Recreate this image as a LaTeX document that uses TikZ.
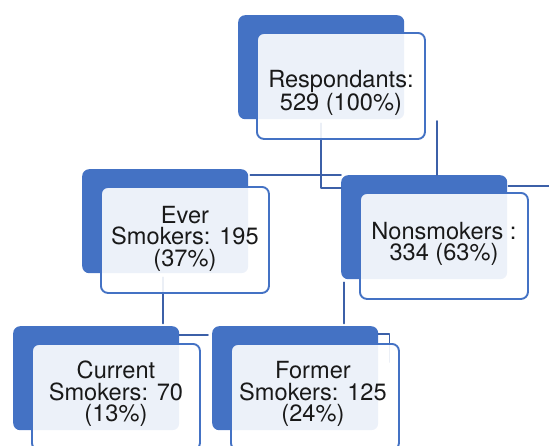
\documentclass[tikz,border=0pt]{standalone}
\usepackage{fontspec}
\setmainfont{TeX Gyre Heros}
\usetikzlibrary{positioning,calc}
\definecolor{boxblue}{RGB}{68,114,196}
\definecolor{linkblue}{RGB}{60,96,168}

\begin{document}
\begin{tikzpicture}[x=1pt,y=-1pt,line cap=round,line join=round,
    backbox/.style={fill=boxblue,rounded corners=7pt,minimum width=166pt,minimum height=104pt,inner sep=0pt,anchor=north west},
    frontbox/.style={draw=boxblue,line width=1.9pt,fill=white,fill opacity=0.9,rounded corners=7pt,minimum width=168pt,minimum height=106pt,inner sep=0pt},
    link/.style={draw=linkblue,line width=1.8pt},
    lbl/.style={align=center,font=\fontsize{23.6}{21.5}\selectfont,text=black!90}]
        \useasboundingbox (0,0) rectangle (549,445);
        \clip (0,0) rectangle (549,445);
        % blue boxes behind
        \foreach \nm/\px/\py in {R/238/15,E/82/169,N/341/175,C/13/326,F/212/326}
        \node[backbox] (back\nm) at (\px,\py) {};
        % connectors
        \coordinate (edgeR) at (552,186);
        \draw[link] ($(backR.south)+(0,4)$) |- ($(backN.north west)+(0,13)$);
        \draw[link] ($(backN.north)+(13,0)$) -- ++(0,-54);
        \draw[link] ($(backE.north east)+(2,6)$) -- (backN.north west);
        \draw[link] ($(backN.north east)+(1,11)$) -- (edgeR);
        \draw[link] ($(backE.south)+(-2,4)$) -- ++(0,46);
        \draw[link] ($(backN.south west)+(3,3)$) -- ++(0,41);
        \draw[link] ($(backC.north east)+(0,9)$) -- ($(backF.north west)+(-4,9)$);
        \draw[link] ($(backF.north east)+(0,8)$) -| ($(backF.north east)+(11,36)$);
        % light boxes in front
        \foreach \nm in {R,E,N,C,F}
        \node[frontbox,below right=17pt and 18pt of back\nm.north west] (front\nm) {};
        \node[lbl,yshift=-7pt] (textR) at (frontR) {Respondants:\\529 (100\%)};
        \node[lbl,yshift=1.5pt] (textE) at (frontE) {Ever\\Smokers: 195\\(37\%)};
        \node[lbl,yshift=2pt] (textN) at (frontN) {Nonsmokers :\\334 (63\%)};
        \node[lbl,yshift=3pt] (textC) at (frontC) {Current\\Smokers: 70\\(13\%)};
        \node[lbl,yshift=3pt,xshift=-2pt] (textF) at (frontF) {Former\\Smokers: 125\\(24\%)};
      \end{tikzpicture}
\end{document}
